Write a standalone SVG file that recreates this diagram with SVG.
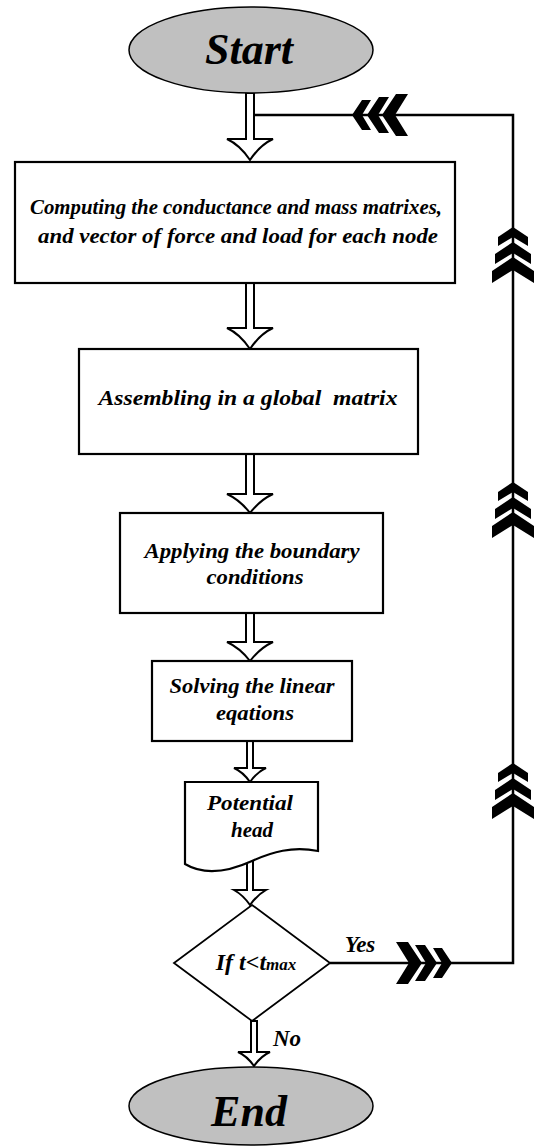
<svg xmlns="http://www.w3.org/2000/svg" width="535" height="1148" viewBox="0 0 535 1148">
<style>
.t{font-family:"Liberation Serif","Times New Roman",serif;font-weight:bold;font-style:italic;fill:#000;text-anchor:middle}
.box{fill:#fff;stroke:#000;stroke-width:2.2}
.term{fill:#c0c0c0;stroke:#000;stroke-width:1.5}
.ha{fill:#fff;stroke:#000;stroke-width:2;stroke-linejoin:miter}
.ln{fill:none;stroke:#000;stroke-width:2.5}
.chev{fill:#000}
</style>
<defs>
<g id="chevs">
<polygon class="chev" points="0,0 15,10 15,19 0,10 -15,19 -15,10"/>
<polygon class="chev" points="0,15 18,27 18,37 0,26 -18,37 -18,27"/>
<polygon class="chev" points="0,30 21,44 21,56 0,43 -21,56 -21,44"/>
</g>
</defs>
<g id="connectors">
<path class="ln" d="M253,115 H513 V963 H330"/>
<use href="#chevs" transform="translate(513,227)"/>
<use href="#chevs" transform="translate(513,482)"/>
<use href="#chevs" transform="translate(513,763)"/>
<use href="#chevs" transform="translate(352,115) rotate(-90)"/>
<use href="#chevs" transform="translate(452,963) rotate(90)"/>
<path class="ha" d="M246,93 V139 H227 Q240,145 250,160 Q260,145 273,139 H254 V93 Z"/>
<path class="ha" d="M246,283 V328 H227 Q240,334 250,349 Q260,334 273,328 H254 V283 Z"/>
<path class="ha" d="M246,454 V494 H227 Q240,500 250,513 Q260,500 273,494 H254 V454 Z"/>
<path class="ha" d="M246,613 V642 H227 Q240,648 250,661 Q260,648 273,642 H254 V613 Z"/>
<path class="ha" d="M247,741 V768 H234 Q243,772 250,782 Q257,772 266,768 H253 V741 Z"/>
<path class="ha" d="M247,861 V890 H234 Q243,895 250,905 Q257,895 266,890 H253 V861 Z"/>
<path class="ha" d="M251,1021 V1052 H238 Q247,1056 254,1066 Q261,1056 270,1052 H257 V1021 Z"/>
<text class="t" x="360" y="952" font-size="23">Yes</text>
<text class="t" x="287" y="1046" font-size="23">No</text>
</g>
<g id="start">
<ellipse class="term" cx="251" cy="50" rx="122" ry="43"/>
<text class="t" x="249" y="64" font-size="44">Start</text>
</g>
<g id="compute">
<rect class="box" x="15" y="162" width="440" height="121"/>
<text class="t" x="236" y="214" font-size="20" textLength="412" lengthAdjust="spacingAndGlyphs">Computing the conductance and mass matrixes,</text>
<text class="t" x="238" y="243" font-size="20" textLength="400" lengthAdjust="spacingAndGlyphs">and vector of force and load for each node</text>
</g>
<g id="assemble">
<rect class="box" x="79" y="349" width="339" height="105"/>
<text class="t" x="248" y="405" font-size="20" textLength="299" lengthAdjust="spacingAndGlyphs" xml:space="preserve">Assembling in a global  matrix</text>
</g>
<g id="boundary">
<rect class="box" x="120" y="513" width="263" height="100"/>
<text class="t" x="252" y="558" font-size="21" textLength="215" lengthAdjust="spacingAndGlyphs">Applying the boundary</text>
<text class="t" x="255" y="584" font-size="21" textLength="97" lengthAdjust="spacingAndGlyphs">conditions</text>
</g>
<g id="solve">
<rect class="box" x="152" y="661" width="200" height="80"/>
<text class="t" x="252" y="693" font-size="21" textLength="165" lengthAdjust="spacingAndGlyphs">Solving the linear</text>
<text class="t" x="255" y="720" font-size="21" textLength="78" lengthAdjust="spacingAndGlyphs">eqations</text>
</g>
<g id="potential">
<path class="box" d="M185,782 H318 V851 C292,846 272,852 252,861 C230,871 205,876 185,864 Z"/>
<text class="t" x="250" y="810" font-size="21" textLength="86" lengthAdjust="spacingAndGlyphs">Potential</text>
<text class="t" x="252" y="837" font-size="21">head</text>
</g>
<g id="decision">
<polygon class="box" points="252,905 330,963 252,1021 174,963" style="stroke-width:1.8"/>
<text class="t" x="256" y="970" font-size="24"><tspan>If t&lt;t</tspan><tspan font-size="17">max</tspan></text>
</g>
<g id="end">
<ellipse class="term" cx="251" cy="1106" rx="122" ry="39"/>
<text class="t" x="249" y="1126" font-size="44">End</text>
</g>
</svg>
